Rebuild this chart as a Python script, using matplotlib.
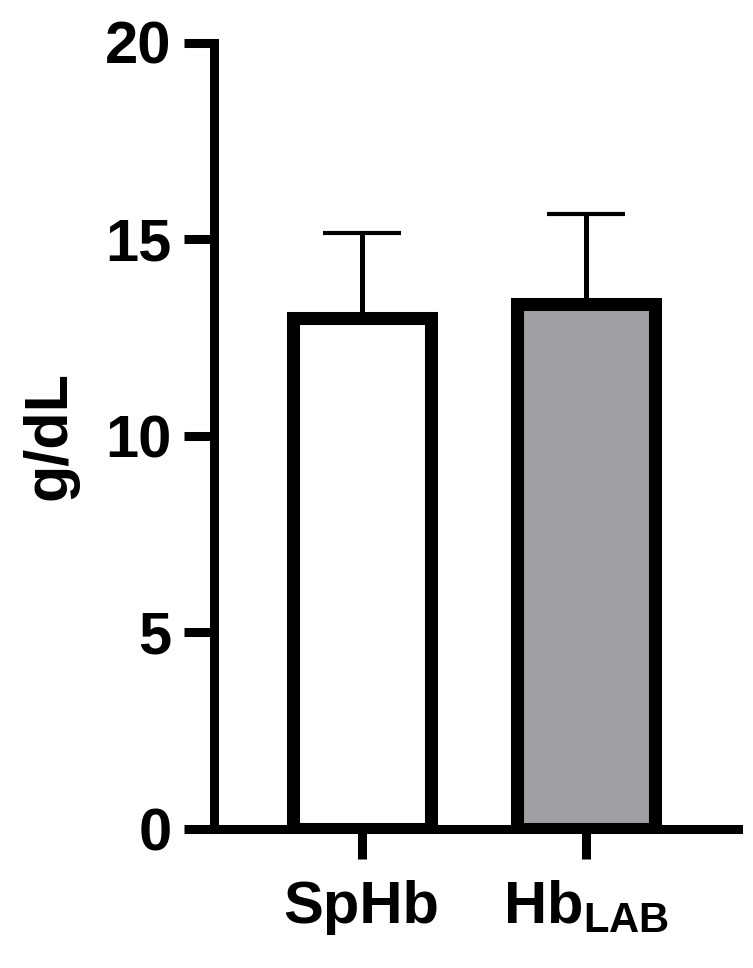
import matplotlib
matplotlib.use("Agg")
import matplotlib.pyplot as plt

plt.rcParams['font.family'] = ['Liberation Sans', 'DejaVu Sans']
plt.rcParams['font.weight'] = 'bold'
plt.rcParams['mathtext.fontset'] = 'custom'
plt.rcParams['mathtext.rm'] = 'Liberation Sans:bold'
plt.rcParams['mathtext.bf'] = 'Liberation Sans:bold'
plt.rcParams['mathtext.it'] = 'Liberation Sans:bold'

categories = ['SpHb', r'$\mathbf{Hb}_{\mathbf{LAB}}$']
means = [13.0, 13.35]
sds = [2.15, 2.3]
fills = ['#ffffff', '#a09fa4']
yticks = [0, 5, 10, 15, 20]

fig = plt.figure(figsize=(7.53, 9.68), dpi=100)
ax = fig.add_axes([213.5 / 753, 139 / 968, (738 - 213.5) / 753, (829 - 42.5) / 968])

x = list(range(len(categories)))
ax.errorbar(x, means, yerr=[[0] * len(sds), sds], fmt='none', ecolor='black',
            elinewidth=3.6, capsize=28, capthick=3.0, zorder=2)
ax.bar(x, means, width=0.615, color=fills, edgecolor='black', linewidth=9.4, zorder=3)

ax.set_ylim(0, 20)
ax.set_xlim(-0.661, 1.677)
ax.set_yticks(yticks)
ax.set_xticks(x)
ax.set_xticklabels(categories)
ax.set_ylabel('g/dL', fontsize=44, fontweight='bold')
ax.yaxis.set_label_coords((78 - 213.5) / 524.5, 0.5)

for s in ['top', 'right']:
    ax.spines[s].set_visible(False)
for s in ['left', 'bottom']:
    ax.spines[s].set_linewidth(6.5)
    ax.spines[s].set_capstyle('projecting')

ax.tick_params(axis='both', width=6.5, length=21.6, labelsize=43, color='black')
ax.tick_params(axis='y', pad=8.6)
ax.tick_params(axis='x', pad=15)
for lab in ax.get_yticklabels() + ax.get_xticklabels():
    lab.set_fontweight('bold')

fig.savefig('out.png', dpi=100)
